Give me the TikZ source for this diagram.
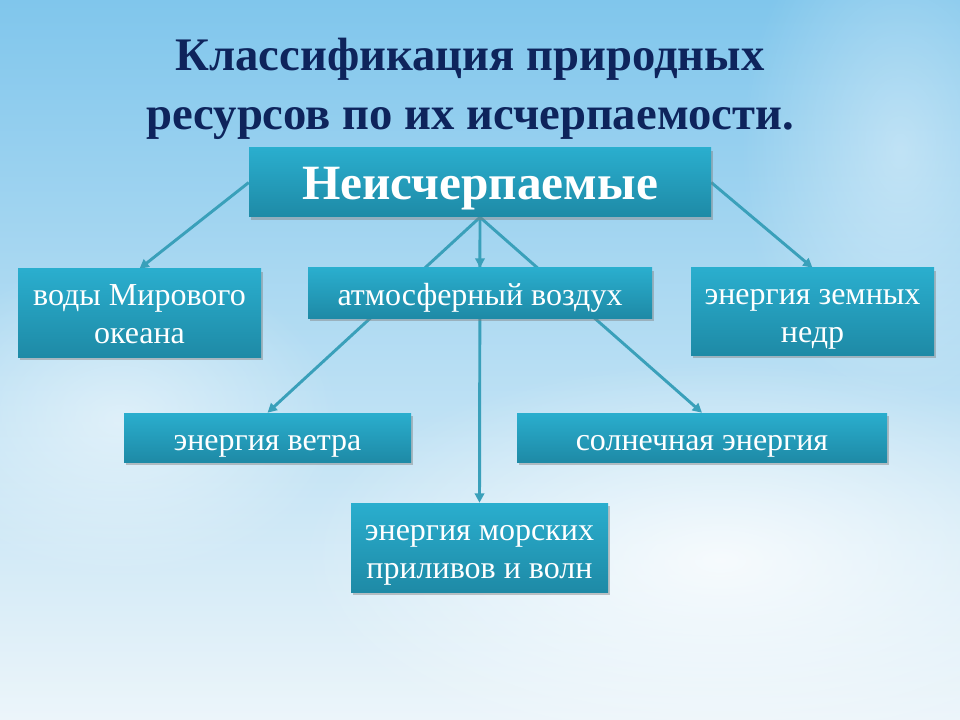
\documentclass[tikz,border=0pt]{standalone}
\usepackage{fontspec}
\setmainfont{Liberation Serif}
\usetikzlibrary{shadows,arrows.meta,fadings}

\pgfdeclarelayer{back}
\pgfdeclarelayer{links}
\pgfsetlayers{back,links,main}

\definecolor{skytop}{RGB}{128,198,236}
\definecolor{skybot}{RGB}{236,245,250}
\definecolor{boxtop}{RGB}{42,174,206}
\definecolor{boxbot}{RGB}{30,138,166}
\definecolor{linkcol}{RGB}{58,160,186}
\definecolor{titlecol}{RGB}{14,36,92}

\tikzfading[name=softglow, inner color=transparent!0, outer color=transparent!100]

\tikzset{
  kind/.style={top color=boxtop, bottom color=boxbot, text=white, align=center,
    inner sep=0pt, font=\fontsize{24}{28.5}\selectfont, text height=19pt, text depth=0pt,
    drop shadow={shadow xshift=1.5pt, shadow yshift=-2.5pt, opacity=0.45}},
  twoline/.style={text height=46pt, text depth=0pt},
  link/.style={draw=linkcol, line width=2.2pt, -{Triangle[length=7pt,width=7pt]}}
}

\begin{document}
\begin{tikzpicture}[x=0.75pt,y=0.75pt,yscale=-1,xscale=1]
\useasboundingbox (0,0) rectangle (960,720);

%Background
\begin{pgfonlayer}{back}
\shade[top color=skytop, bottom color=skybot] (0,0) rectangle (960,720);
\fill[white, opacity=0.8, path fading=softglow] (720,560) ellipse (420 and 200);
\fill[white, opacity=0.5, path fading=softglow] (120,420) ellipse (220 and 160);
\fill[white, opacity=0.4, path fading=softglow] (900,150) ellipse (160 and 260);
\end{pgfonlayer}

% Title
\node (title) [text=titlecol, align=center, font=\bfseries\fontsize{35}{44}\selectfont]
  at (470,89) {Классификация природных\\ресурсов по их исчерпаемости.};

% Boxes
\node (top) [kind, minimum width=346.5pt, minimum height=51.75pt, text height=25pt,
  font=\bfseries\fontsize{37}{40}\selectfont] at (480,182.5) {Неисчерпаемые};
\node (voda) [kind, twoline, minimum width=182.25pt, minimum height=66pt] at (139.5,313)
  {воды Мирового\\океана};
\node (air) [kind, minimum width=258pt, minimum height=37.5pt] at (480,293)
  {атмосферный воздух};
\node (nedr) [kind, twoline, minimum width=182.25pt, minimum height=65.25pt] at (812.5,311.5)
  {энергия земных\\недр};
\node (wind) [kind, minimum width=215.25pt, minimum height=36.75pt] at (267.5,437.5)
  {энергия ветра};
\node (sun) [kind, minimum width=277.5pt, minimum height=36.75pt] at (702,437.5)
  {солнечная энергия};
\node (tide) [kind, twoline, minimum width=192.75pt, minimum height=66.75pt] at (479.5,547.5)
  {энергия морских\\приливов и волн};

% Arrows
\begin{pgfonlayer}{links}
\draw[link] (top.west) -- (voda.north);
\draw[link] (top.east) -- (nedr.north);
\draw[link] (top.south) -- (air.north);
\draw[link] (top.south) -- (wind.north);
\draw[link] (top.south) -- (sun.north);
\draw[link] (top.south) -- (tide.north);
\end{pgfonlayer}

\end{tikzpicture}
\end{document}
